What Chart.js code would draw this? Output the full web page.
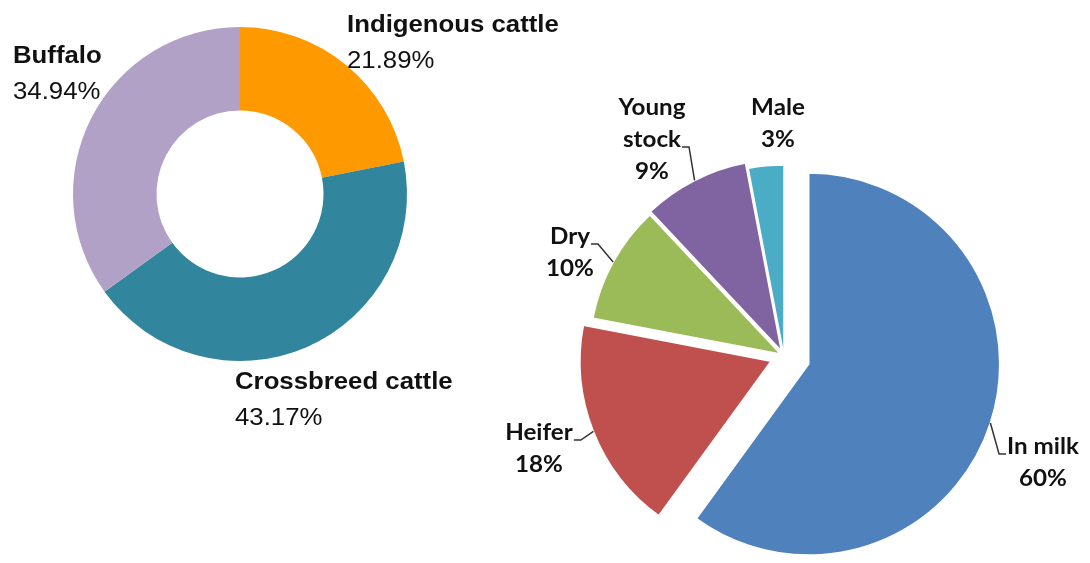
<!DOCTYPE html>
<html>
<head>
<meta charset="utf-8">
<script src="https://cdn.jsdelivr.net/npm/chart.js@4.4.1/dist/chart.umd.min.js"></script>
<style>
  html, body { margin: 0; background: #fff; }
  #wrap { position: relative; width: 1090px; height: 563px; overflow: hidden; }
  #wrap canvas { position: absolute; left: 0; top: 0; }
</style>
</head>
<body>
<div id="wrap">
  <canvas id="herdChart" width="1090" height="563"></canvas>
  <canvas id="stockChart" width="1090" height="563"></canvas>
</div>
<script>
// Herd composition (doughnut, left)
const herdLabels = ['Indigenous cattle', 'Crossbreed cattle', 'Buffalo'];
const herdShares = [21.89, 43.17, 34.94];
const herdColors = ['#FF9900', '#31859C', '#B2A1C7'];

// Dairy stock structure (exploded pie, right)
const stockLabels = ['In milk', 'Heifer', 'Dry', ['Young', 'stock'], 'Male'];
const stockShares = [60, 18, 10, 9, 3];
const stockColors = ['#4F81BD', '#C0504D', '#9BBB59', '#8064A2', '#4BACC6'];
const stockExplode = [26, 14, 4, 6, 0];

// label placement, relative to each chart's centre (baseline of first line)
const herdSpots = [
  { dx: 107, dy: -162 },
  { dx: -5, dy: 195 },
  { dx: -227, dy: -131 }
];
const stockSpots = [
  { dx: 259, dy: 98, leader: 'left' },
  { dx: -245, dy: 84, leader: 'right' },
  { dx: -214, dy: -112, leader: 'right' },
  { dx: -132, dy: -241, leader: 'right' },
  { dx: -6, dy: -241 }
];

// text is drawn slightly widened, like the original export
function wideText(ctx, text, x, y, align, sx) {
  const w = ctx.measureText(text).width * sx;
  const left = align === 'center' ? x - w / 2 : x;
  ctx.save();
  ctx.translate(left, y);
  ctx.scale(sx, 1);
  ctx.textAlign = 'left';
  ctx.textBaseline = 'alphabetic';
  ctx.fillText(text, 0, 0);
  ctx.restore();
  return { left, right: left + w };
}

// pulls slices out along their bisector by a fixed number of pixels
// (the built-in offset also grows the radius of wide slices)
const explode = {
  id: 'explode',
  afterDatasetUpdate(chart, args, opts) {
    if (!opts.amounts) return;
    args.meta.data.forEach((arc, i) => {
      const d = opts.amounts[i] || 0;
      const mid = (arc.startAngle + arc.endAngle) / 2;
      arc.x += Math.cos(mid) * d;
      arc.y += Math.sin(mid) * d;
    });
  }
};

const sliceLabels = {
  id: 'sliceLabels',
  afterDatasetsDraw(chart, args, opts) {
    const ctx = chart.ctx;
    const area = chart.chartArea;
    const cx = (area.left + area.right) / 2;
    const cy = (area.top + area.bottom) / 2;
    const meta = chart.getDatasetMeta(0);
    const values = chart.data.datasets[0].data;

    meta.data.forEach((arc, i) => {
      const spot = opts.spots[i];
      const names = [].concat(chart.data.labels[i]);
      const lines = names.map(t => ({ text: t, font: opts.nameFont }));
      lines.push({ text: opts.format(values[i]), font: opts.valueFont });

      const x = cx + spot.dx;
      const y0 = cy + spot.dy;
      let attach = null;

      ctx.fillStyle = opts.color;
      lines.forEach((ln, k) => {
        ctx.font = ln.font;
        const y = y0 + k * opts.lineHeight;
        const box = wideText(ctx, ln.text, x, y, opts.align, opts.stretch);
        if (k === names.length - 1) attach = { box, y };
      });

      if (!spot.leader) return;
      // leader runs from the name to the middle of the slice's outer edge
      const mid = (arc.startAngle + arc.endAngle) / 2;
      const ex = arc.x + Math.cos(mid) * arc.outerRadius;
      const ey = arc.y + Math.sin(mid) * arc.outerRadius;
      const sx = spot.leader === 'right' ? attach.box.right + 1 : attach.box.left - 1;
      const kx = spot.leader === 'right' ? sx + 7 : sx - 7;

      ctx.save();
      ctx.strokeStyle = '#333';
      ctx.lineWidth = 1.5;
      ctx.beginPath();
      ctx.moveTo(sx, attach.y);
      ctx.lineTo(kx, attach.y);
      ctx.lineTo(ex, ey);
      ctx.stroke();
      ctx.restore();
    });
  }
};

new Chart(document.getElementById('herdChart'), {
  type: 'doughnut',
  data: {
    labels: herdLabels,
    datasets: [{
      data: herdShares,
      backgroundColor: herdColors,
      borderWidth: 0
    }]
  },
  options: {
    responsive: false,
    animation: false,
    radius: 167,
    cutout: '50%',
    layout: { padding: { left: 0, right: 610, top: 0, bottom: 175 } },
    plugins: {
      legend: { display: false },
      tooltip: { enabled: false },
      sliceLabels: {
        spots: herdSpots,
        align: 'left',
        stretch: 1.12,
        lineHeight: 36,
        color: '#111',
        nameFont: 'bold 23px "Liberation Sans", Arial, sans-serif',
        valueFont: '23px "Liberation Sans", Arial, sans-serif',
        format: v => v.toFixed(2) + '%'
      }
    }
  },
  plugins: [sliceLabels]
});

new Chart(document.getElementById('stockChart'), {
  type: 'pie',
  data: {
    labels: stockLabels,
    datasets: [{
      data: stockShares,
      backgroundColor: stockColors,
      borderColor: '#fff',
      borderWidth: 1.5
    }]
  },
  options: {
    responsive: false,
    animation: false,
    radius: 191,
    layout: { padding: { left: 584, right: 106, top: 156, bottom: 7 } },
    plugins: {
      legend: { display: false },
      tooltip: { enabled: false },
      explode: { amounts: stockExplode },
      sliceLabels: {
        spots: stockSpots,
        align: 'center',
        stretch: 1.1,
        lineHeight: 32,
        color: '#111',
        nameFont: 'bold 22px Lato, "Open Sans", sans-serif',
        valueFont: 'bold 22px Lato, "Open Sans", sans-serif',
        format: v => v + '%'
      }
    }
  },
  plugins: [explode, sliceLabels]
});
</script>
</body>
</html>
